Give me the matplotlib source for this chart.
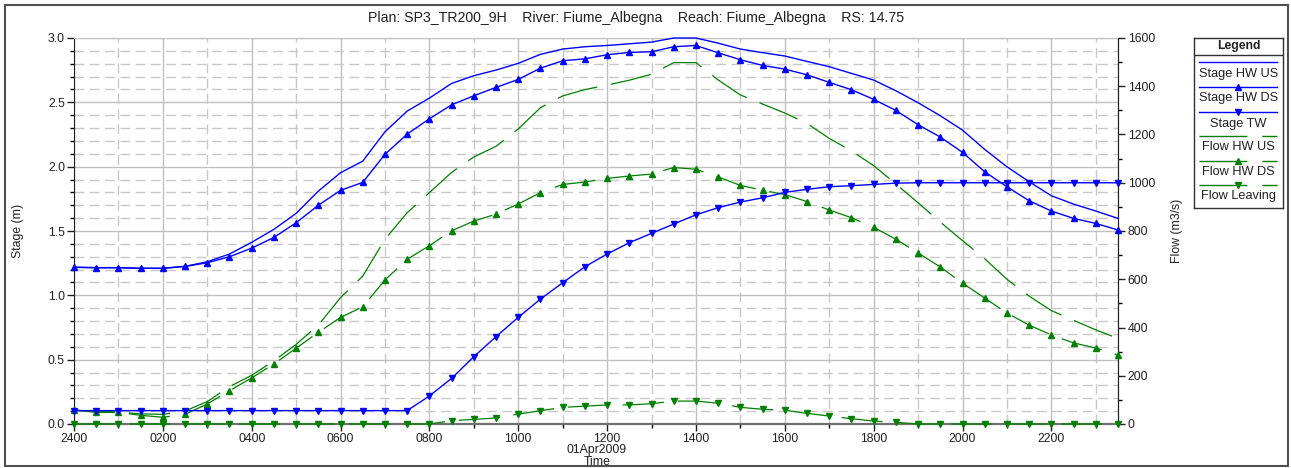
import matplotlib
matplotlib.use('Agg')
import matplotlib.pyplot as plt
from matplotlib.patches import Rectangle

plt.rcParams['font.family'] = ['Liberation Sans', 'DejaVu Sans']

# ---------------- data ----------------
hours = [0, 0.5, 1, 1.5, 2, 2.5, 3, 3.5, 4, 4.5, 5, 5.5, 6, 6.5, 7, 7.5,
         8, 8.5, 9, 9.5, 10, 10.5, 11, 11.5, 12, 12.5, 13, 13.5, 14, 14.5, 15, 15.5,
         16, 16.5, 17, 17.5, 18, 18.5, 19, 19.5, 20, 20.5, 21, 21.5, 22, 22.5, 23, 23.5]

stage_hw_us = [1.218, 1.215, 1.215, 1.21, 1.21, 1.225, 1.261, 1.321, 1.412, 1.513,
               1.637, 1.81, 1.953, 2.043, 2.271, 2.432, 2.533, 2.647, 2.707, 2.751,
               2.803, 2.873, 2.914, 2.932, 2.942, 2.955, 2.968, 3.0, 3.0, 2.96,
               2.914, 2.886, 2.86, 2.818, 2.777, 2.725, 2.673, 2.59, 2.497, 2.396,
               2.284, 2.134, 1.999, 1.883, 1.774, 1.709, 1.655, 1.598]

stage_hw_ds = [1.218, 1.215, 1.215, 1.21, 1.21, 1.225, 1.253, 1.30, 1.367, 1.45,
               1.564, 1.70, 1.816, 1.878, 2.096, 2.253, 2.372, 2.481, 2.551, 2.616,
               2.678, 2.766, 2.823, 2.838, 2.87, 2.888, 2.893, 2.932, 2.942, 2.885,
               2.831, 2.787, 2.758, 2.714, 2.655, 2.598, 2.523, 2.437, 2.326, 2.23,
               2.111, 1.96, 1.844, 1.735, 1.655, 1.598, 1.559, 1.508]

stage_tw = [0.104, 0.104, 0.104, 0.104, 0.104, 0.104, 0.104, 0.104, 0.104, 0.104,
            0.104, 0.104, 0.104, 0.104, 0.104, 0.104, 0.218, 0.355, 0.523, 0.679,
            0.829, 0.971, 1.098, 1.222, 1.321, 1.409, 1.482, 1.554, 1.626, 1.681,
            1.725, 1.758, 1.8, 1.824, 1.844, 1.852, 1.862, 1.872, 1.875, 1.875,
            1.875, 1.875, 1.875, 1.875, 1.875, 1.875, 1.875, 1.875]

flow_hw_us = [58, 52, 50, 42, 40, 54, 93, 155, 202, 262,
              330, 410, 524, 613, 766, 876, 959, 1043, 1107, 1151,
              1223, 1311, 1360, 1386, 1405, 1425, 1450, 1498, 1498, 1426,
              1364, 1326, 1289, 1246, 1184, 1132, 1071, 995, 917, 837,
              760, 685, 600, 530, 470, 430, 390, 355]

flow_hw_ds = [58, 48, 48, 36, 28, 40, 83, 138, 191, 249,
              314, 380, 442, 486, 597, 683, 739, 801, 841, 870,
              912, 959, 993, 1003, 1018, 1028, 1036, 1063, 1056, 1024,
              989, 969, 951, 922, 887, 855, 815, 766, 709, 651,
              584, 522, 460, 410, 369, 336, 315, 286]

flow_leaving = [0, 0, 0, 0, 0, 0, 0, 0, 0, 0,
                0, 0, 0, 0, 0, 0, 0, 14, 19, 25,
                41, 55, 69, 74, 79, 79, 84, 95, 95, 86,
                69, 61, 57, 44, 33, 22, 12, 7, 0, 0,
                0, 0, 0, 0, 0, 0, 0, 0]

x_tick_pos = [0, 2, 4, 6, 8, 10, 12, 14, 16, 18, 20, 22]
x_tick_labels = ['2400', '0200', '0400', '0600', '0800', '1000',
                 '1200', '1400', '1600', '1800', '2000', '2200']
legend_labels = ['Stage HW US', 'Stage HW DS', 'Stage TW',
                 'Flow HW US', 'Flow HW DS', 'Flow Leaving']
title = 'Plan: SP3_TR200_9H    River: Fiume_Albegna    Reach: Fiume_Albegna    RS: 14.75'

# ---------------- figure ----------------
W, H = 1291, 468
fig = plt.figure(figsize=(W / 100, H / 100), dpi=100)

def fx(px):
    return px / W

def fy(py):
    return 1 - py / H

BLUE = '#0000ff'
GREEN = '#008000'
GRID = '#c8c8c8'
DASH = (0, (33, 11))
TXT = '#202020'
FS = 8.8

ax = fig.add_axes([fx(74), fy(424), fx(1118) - fx(74), fy(38) - fy(424)])
ax.set_xlim(0, 23.5)
ax.set_ylim(0, 3.0)
ax.set_xticks(x_tick_pos)
ax.set_xticklabels(x_tick_labels)
ax.set_xticks([h for h in range(1, 24, 2)], minor=True)
ax.set_yticks([0, 0.5, 1.0, 1.5, 2.0, 2.5, 3.0])
ax.set_yticklabels(['0.0', '0.5', '1.0', '1.5', '2.0', '2.5', '3.0'])
ax.set_yticks([i / 10 for i in range(31) if i % 5], minor=True)
ax.grid(which='major', color='#c0c0c0', lw=1.0, ls='-', zorder=0)
ax.grid(which='minor', color=GRID, lw=1.0, ls=(0, (7, 4)), zorder=0)
ax.set_axisbelow(True)
ax.tick_params(which='major', direction='out', length=5, width=1, labelsize=FS,
               colors=TXT, pad=1.5)
ax.tick_params(which='minor', direction='out', length=3, width=1)
ax.spines['top'].set_color('#c0c0c0')
ax.spines['bottom'].set_color('#707070')
ax.spines['bottom'].set_linewidth(1.6)
ax.spines['left'].set_color(TXT)
ax.spines['right'].set_color(TXT)

ax2 = ax.twinx()
ax2.set_ylim(0, 1600)
ax2.set_yticks([0, 200, 400, 600, 800, 1000, 1200, 1400, 1600])
ax2.set_yticks([100, 300, 500, 700, 900, 1100, 1300, 1500], minor=True)
ax2.tick_params(which='major', direction='out', length=5, width=1, labelsize=FS,
                colors=TXT, pad=2)
ax2.tick_params(which='minor', direction='out', length=3, width=1)
ax2.spines['right'].set_color(TXT)
ax2.spines['top'].set_visible(False)
ax2.spines['bottom'].set_visible(False)
ax2.spines['left'].set_visible(False)

ms = 4.5
ax2.plot(hours, flow_hw_us, color=GREEN, lw=0.9, ls=DASH, zorder=3, clip_on=False)
ax2.plot(hours, flow_hw_ds, color=GREEN, lw=0.9, ls=DASH, marker='^', ms=ms,
         zorder=3, clip_on=False)
ax2.plot(hours, flow_leaving, color=GREEN, lw=0.9, ls=DASH, marker='v', ms=ms,
         zorder=3, clip_on=False)
ax2.plot(hours, stage_hw_us, color=BLUE, lw=1.0, transform=ax.transData, zorder=4,
         clip_on=False)
ax2.plot(hours, stage_hw_ds, color=BLUE, lw=1.0, marker='^', ms=ms,
         transform=ax.transData, zorder=4, clip_on=False)
ax2.plot(hours, stage_tw, color=BLUE, lw=1.0, marker='v', ms=ms,
         transform=ax.transData, zorder=4, clip_on=False)

# labels
fig.text(fx(636), fy(18), title, ha='center', va='center', fontsize=10.2, color=TXT)
fig.text(fx(18), fy(231), 'Stage (m)', rotation=90, ha='center', va='center',
         fontsize=FS, color=TXT)
fig.text(fx(1177), fy(231), 'Flow (m3/s)', rotation=90, ha='center', va='center',
         fontsize=FS, color=TXT)
fig.text(fx(597), fy(450.5), '01Apr2009', ha='center', va='center', fontsize=FS,
         color=TXT)
fig.text(fx(597), fy(462), 'Time', ha='center', va='center', fontsize=FS,
         color=TXT)

# legend box
lax = fig.add_axes([fx(1194), fy(208), fx(1283) - fx(1194), fy(38) - fy(208)])
lax.set_xlim(1194, 1283)
lax.set_ylim(208, 38)
lax.set_xticks([])
lax.set_yticks([])
for s in lax.spines.values():
    s.set_color('#303030')
    s.set_linewidth(1.0)
lax.text(1238.5, 46.5, 'Legend', ha='center', va='center', fontsize=FS,
         fontweight='bold', color=TXT)
lax.plot([1194, 1283], [55, 55], color='#303030', lw=1.0)
styles = [(BLUE, '-', None), (BLUE, '-', '^'), (BLUE, '-', 'v'),
          (GREEN, (0, (34.5, 10.8)), None), (GREEN, (0, (34.5, 10.8)), '^'),
          (GREEN, (0, (34.5, 10.8)), 'v')]
line_y = [62, 87, 112, 136, 161, 185]
text_y = [74, 98.5, 123.5, 147.5, 172, 196]
for (c, ls, mk), ly, ty, lab in zip(styles, line_y, text_y, legend_labels):
    lax.plot([1199, 1277], [ly, ly], color=c, lw=1.0, ls=ls)
    if mk:
        lax.plot([1238], [ly], color=c, marker=mk, ms=ms, ls='none')
    lax.text(1238.5, ty, lab, ha='center', va='center', fontsize=9.2, color=TXT)

# outer frame
fig.add_artist(Rectangle((fx(5), fy(466)), fx(1288) - fx(5), fy(5) - fy(466),
                         transform=fig.transFigure, fill=False,
                         edgecolor='#505050', lw=1.5))

fig.savefig('out.png', dpi=100, facecolor='white')
